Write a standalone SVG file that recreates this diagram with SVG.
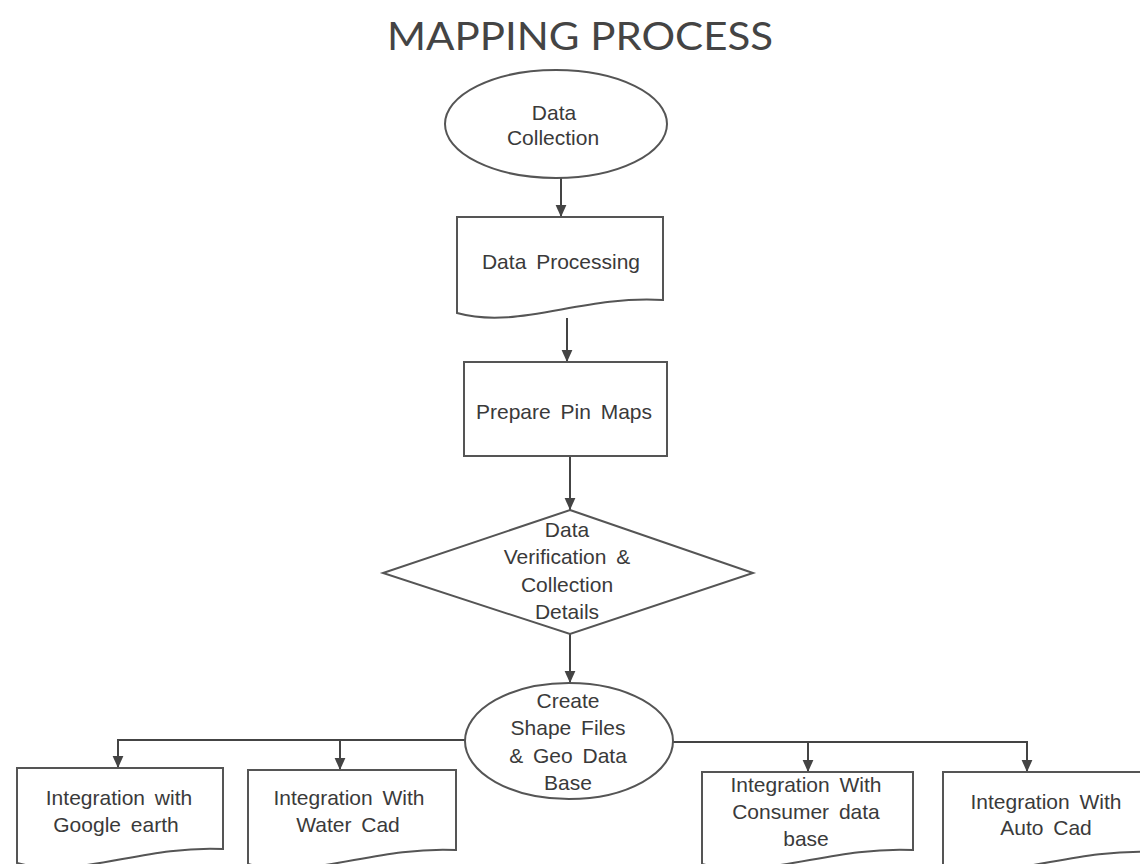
<svg xmlns="http://www.w3.org/2000/svg" width="1140" height="864" viewBox="0 0 1140 864">
<style>
.shape{fill:#fff;stroke:#555;stroke-width:2}
.conn{fill:none;stroke:#444;stroke-width:2}
.t{font-family:"Liberation Sans",Arial,sans-serif;font-size:21px;fill:#3a3a3a;text-anchor:middle;word-spacing:4px}
.title{font-family:Lato,"Liberation Sans",sans-serif;font-size:38px;fill:#444;text-anchor:middle}
</style>
<defs>
<marker id="ah" markerUnits="userSpaceOnUse" markerWidth="12" markerHeight="12" viewBox="0 0 10 10" refX="10" refY="5" orient="auto">
<path d="M0,0.5 L10,5 L0,9.5 z" fill="#444"/>
</marker>
</defs>
<rect width="1140" height="864" fill="#fff"/>
<text class="title" x="580" y="50" textLength="386" lengthAdjust="spacingAndGlyphs">MAPPING PROCESS</text>

<g id="connectors">
<line class="conn" x1="561" y1="178" x2="561" y2="217" marker-end="url(#ah)"/>
<line class="conn" x1="567" y1="318" x2="567" y2="362" marker-end="url(#ah)"/>
<line class="conn" x1="570" y1="456" x2="570" y2="510" marker-end="url(#ah)"/>
<line class="conn" x1="570" y1="634" x2="570" y2="683" marker-end="url(#ah)"/>
<polyline class="conn" points="465,740 118,740 118,768" marker-end="url(#ah)"/>
<line class="conn" x1="340" y1="740" x2="340" y2="770" marker-end="url(#ah)"/>
<polyline class="conn" points="673,742 1027,742 1027,772" marker-end="url(#ah)"/>
<line class="conn" x1="808" y1="742" x2="808" y2="772" marker-end="url(#ah)"/>
</g>

<g id="data-collection">
<ellipse class="shape" cx="556" cy="124" rx="111" ry="54"/>
<text class="t" x="554" y="120">Data</text>
<text class="t" x="553" y="145">Collection</text>
</g>

<g id="data-processing">
<path class="shape" d="M457,217 H663 V300 C581,295 519,330 457,313 Z"/>
<text class="t" x="561" y="269">Data Processing</text>
</g>

<g id="prepare-pin-maps">
<rect class="shape" x="464" y="362" width="203" height="94"/>
<text class="t" x="564" y="419">Prepare Pin Maps</text>
</g>

<g id="data-verification">
<polygon class="shape" points="570,510 753,573 570,634 383,573"/>
<text class="t" x="567" y="537">Data</text>
<text class="t" x="567" y="564">Verification &amp;</text>
<text class="t" x="567" y="592">Collection</text>
<text class="t" x="567" y="619">Details</text>
</g>

<g id="create-shape-files">
<ellipse class="shape" cx="569" cy="741" rx="104" ry="58"/>
<text class="t" x="568" y="708">Create</text>
<text class="t" x="568" y="735">Shape Files</text>
<text class="t" x="568" y="763">&amp; Geo Data</text>
<text class="t" x="568" y="790">Base</text>
</g>

<g id="google-earth">
<path class="shape" d="M17,768 H223 V849 C141,845 79,880 17,863 Z"/>
<text class="t" x="119" y="805">Integration with</text>
<text class="t" x="116" y="832">Google earth</text>
</g>

<g id="water-cad">
<path class="shape" d="M248,770 H456 V850 C373,846 310,881 248,864 Z"/>
<text class="t" x="349" y="805">Integration With</text>
<text class="t" x="348" y="832">Water Cad</text>
</g>

<g id="consumer-database">
<path class="shape" d="M702,772 H913 V850 C829,846 765,881 702,864 Z"/>
<text class="t" x="806" y="792">Integration With</text>
<text class="t" x="806" y="819">Consumer data</text>
<text class="t" x="806" y="846">base</text>
</g>

<g id="auto-cad">
<path class="shape" d="M943,772 H1153 V852 C1069,848 1006,883 943,866 Z"/>
<text class="t" x="1046" y="809">Integration With</text>
<text class="t" x="1046" y="835">Auto Cad</text>
</g>
</svg>
